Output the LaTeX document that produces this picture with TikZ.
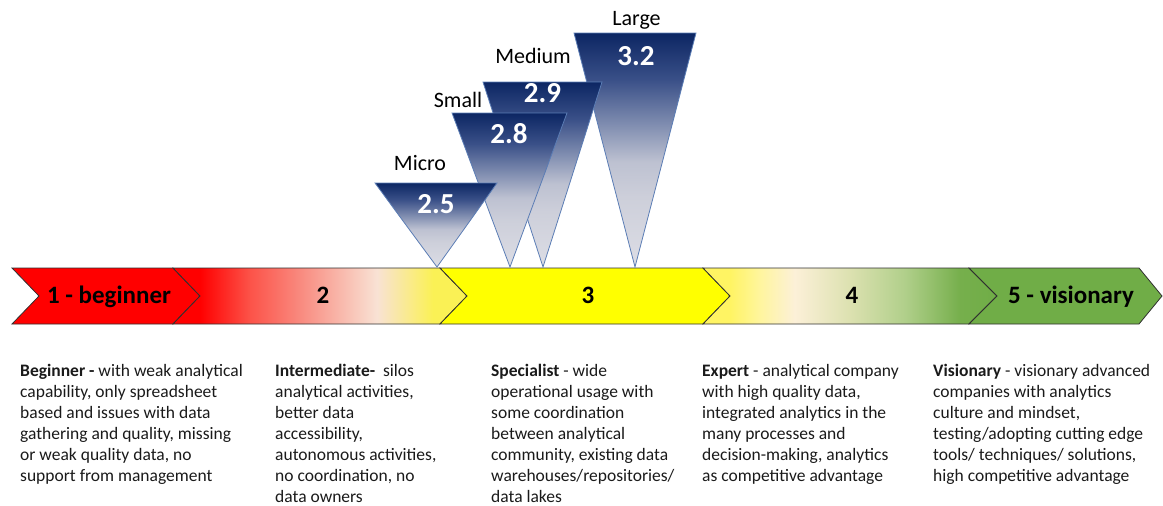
\documentclass[tikz,border=0pt]{standalone}
\usepackage{fontspec}
\setmainfont{Carlito}
\definecolor{chred}{HTML}{FF0000}
\definecolor{chyellow}{HTML}{FFFF00}
\definecolor{chgreen}{HTML}{70AD47}
\definecolor{barline}{HTML}{303030}
\definecolor{triline}{HTML}{5B7DB5}
\definecolor{desctext}{HTML}{1A1A1A}
\definecolor{tA}{HTML}{FF0000}
\definecolor{tB}{HTML}{FC5248}
\definecolor{tC}{HTML}{F98A7F}
\definecolor{tD}{HTML}{F9E2D4}
\definecolor{tE}{HTML}{FAF155}
\definecolor{fA}{HTML}{FFF463}
\definecolor{fB}{HTML}{FFF59E}
\definecolor{fC}{HTML}{FCF0D8}
\definecolor{fD}{HTML}{DCE1B0}
\definecolor{fE}{HTML}{B0CF8A}
\definecolor{fF}{HTML}{76AF4C}
\definecolor{fG}{HTML}{70AD47}
\definecolor{vA}{HTML}{0C2663}
\definecolor{vB}{HTML}{3A5088}
\definecolor{vC}{HTML}{8390B2}
\definecolor{vD}{HTML}{BDC1D1}
\definecolor{vE}{HTML}{CDCFDA}
\definecolor{vF}{HTML}{DCDDE5}
\pgfdeclarehorizontalshading{shadeTwo}{100bp}{color(0bp)=(tA); color(25bp)=(tA); color(29.6bp)=(tA); color(38bp)=(tB); color(46.6bp)=(tC); color(59.7bp)=(tD); color(69.2bp)=(tE); color(75bp)=(tE); color(100bp)=(tE)}
\pgfdeclarehorizontalshading{shadeFour}{100bp}{color(0bp)=(fA); color(25bp)=(fA); color(29.6bp)=(fA); color(34.7bp)=(fB); color(40.6bp)=(fC); color(50bp)=(fD); color(59.4bp)=(fE); color(68.7bp)=(fF); color(75bp)=(fG); color(100bp)=(fG)}
\pgfdeclareverticalshading{shadeTri}{100bp}{color(0bp)=(vF); color(25bp)=(vF); color(40bp)=(vE); color(47.5bp)=(vD); color(55bp)=(vC); color(65bp)=(vB); color(75bp)=(vA); color(100bp)=(vA)}
\begin{document}
\begin{tikzpicture}[x=1pt,y=-1pt,
  bar/.style={draw=barline, line width=0.8pt, line join=miter},
  tri/.style={draw=triline, line width=0.8pt, shade, shading=shadeTri},
  barlabel/.style={font=\fontsize{25}{30}\selectfont\bfseries, anchor=base, inner sep=0pt},
  trinum/.style={font=\fontsize{29}{34}\selectfont\bfseries, text=white, anchor=base, inner sep=0pt},
  trisize/.style={font=\fontsize{22}{26}\selectfont, anchor=base, inner sep=0pt},
  desc/.style={font=\fontsize{17.5}{21}\selectfont, align=left, anchor=north west, inner sep=0pt, text=desctext}]
\useasboundingbox (0,0) rectangle (1163,506);

% chevron bar
\path[bar, fill=chred] (12,268) -- (173,268) -- (200,296) -- (173,324) -- (12,324) -- (39,296) -- cycle;
\path[bar, shade, shading=shadeTwo] (173,268) -- (440,268) -- (467,296) -- (440,324) -- (173,324) -- (200,296) -- cycle;
\path[bar, fill=chyellow] (440,268) -- (703,268) -- (730,296) -- (703,324) -- (440,324) -- (467,296) -- cycle;
\path[bar, shade, shading=shadeFour] (703,268) -- (969,268) -- (997,296) -- (969,324) -- (703,324) -- (730,296) -- cycle;
\path[bar, fill=chgreen] (969,268) -- (1139,268) -- (1162,296) -- (1139,324) -- (969,324) -- (997,296) -- cycle;

\node[barlabel] (l1) at (109,303) {1 - beginner};
\node[barlabel] (l2) at (323,303) {2};
\node[barlabel] (l3) at (588,303) {3};
\node[barlabel] (l4) at (852,303) {4};
\node[barlabel] (l5) at (1071,303) {5 - visionary};

% triangles (back to front)
\path[tri] (574,33) -- (696,33) -- (635,267) -- cycle;
\path[tri] (483,82) -- (602,82) -- (543,267) -- cycle;
\path[tri] (452,113) -- (567,113) -- (510,267) -- cycle;
\path[tri] (375,183) -- (497,183) -- (437,267) -- cycle;

\node[trinum] (vLarge) at (636,65) {3.2};
\node[trinum] (vMedium) at (542.5,102) {2.9};
\node[trinum] (vSmall) at (509,143) {2.8};
\node[trinum] (vMicro) at (436,213) {2.5};

\node[trisize] (sLarge) at (636.5,25) {Large};
\node[trisize] (sMedium) at (533,63) {Medium};
\node[trisize] (sSmall) at (458,107) {Small};
\node[trisize] (sMicro) at (420,170) {Micro};

% descriptions
\node[desc] (d1) at (20,364) {\textbf{Beginner -} with weak analytical\\capability, only spreadsheet\\based and issues with data\\gathering and quality, missing\\or weak quality data, no\\support from management};
\node[desc] (d2) at (275,364) {\textbf{Intermediate-}\ \ silos\\analytical activities,\\better data\\accessibility,\\autonomous activities,\\no coordination, no\\data owners};
\node[desc] (d3) at (491,364) {\textbf{Specialist} - wide\\operational usage with\\some coordination\\between analytical\\community, existing data\\warehouses/repositories/\\data lakes};
\node[desc] (d4) at (702,364) {\textbf{Expert} - analytical company\\with high quality data,\\integrated analytics in the\\many processes and\\decision-making, analytics\\as competitive advantage};
\node[desc] (d5) at (933,364) {\textbf{Visionary} - visionary advanced\\companies with analytics\\culture and mindset,\\testing/adopting cutting edge\\tools/ techniques/ solutions,\\high competitive advantage};
\end{tikzpicture}
\end{document}
